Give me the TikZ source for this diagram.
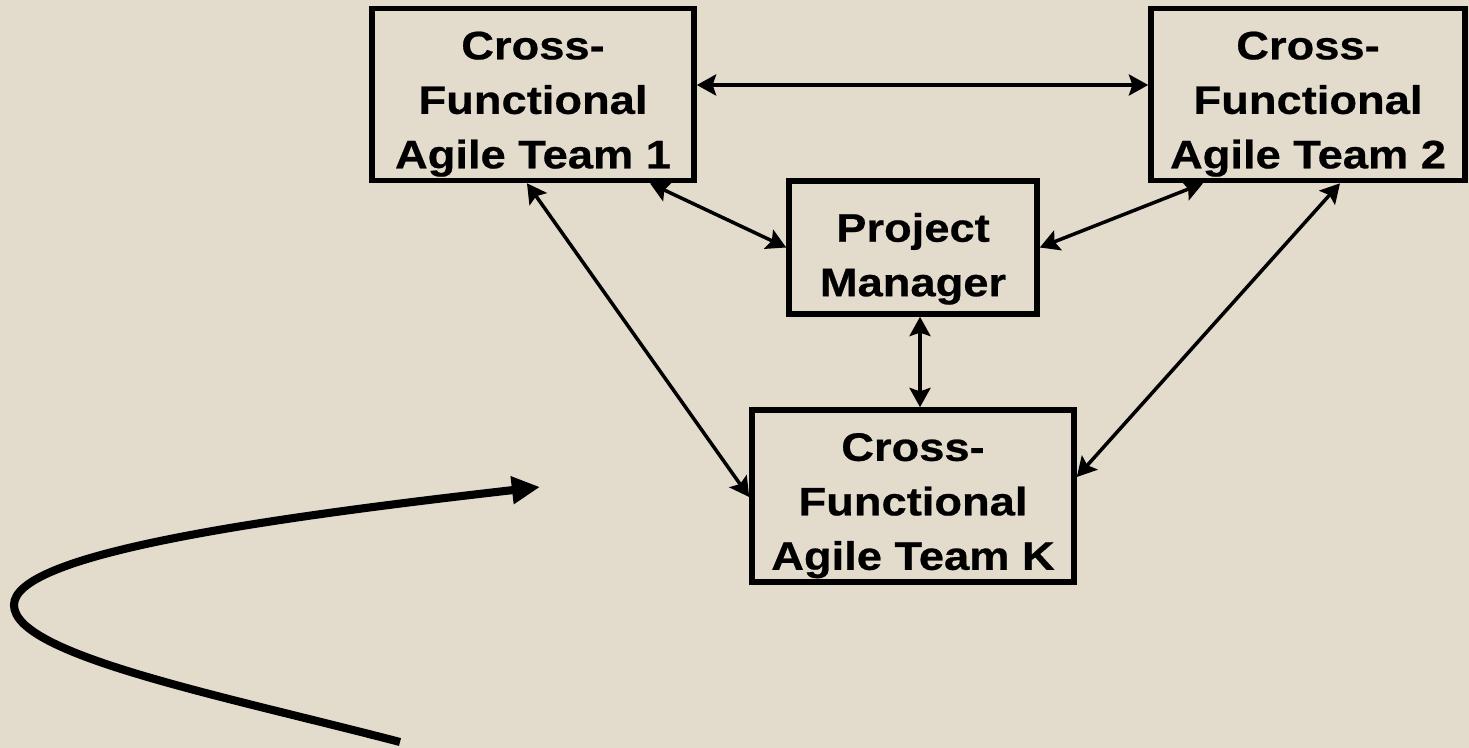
\documentclass[tikz,border=0pt]{standalone}
\usepackage{fontspec}
\newfontfamily\boxfont[FakeStretch=1.14,FakeBold=0.6]{Liberation Sans}
\usepackage{tikz}
\usetikzlibrary{positioning,arrows.meta}
\definecolor{paper}{RGB}{227,219,204}

\begin{document}
\begin{tikzpicture}[on grid,auto]
    \tikzset{teambox/.style={draw,rectangle,line width=1.6pt,inner sep=0pt,
        minimum width=3.22cm,minimum height=1.72cm,align=center,
        text height=42pt,text depth=0pt,
        font=\boxfont\bfseries\fontsize{11.3}{15.5}\selectfont}}
    \tikzset{link/.style={line width=1pt,
        {Stealth[length=5.5pt,width=6pt,inset=1pt]}-{Stealth[length=5.5pt,width=6pt,inset=1pt]}}}
    \tikzset{flow/.style={line width=2.3pt,-{Triangle[length=8pt,width=7.5pt]}}}

    % page
    \fill[paper] (0,0) rectangle (14.69,-7.48);
    \useasboundingbox (0,0) rectangle (14.69,-7.48);

    \node[teambox] (team1) at (5.33,-0.945) {Cross-\\Functional\\Agile Team 1};
    \node[teambox,minimum width=3.14cm] (team2) [right = 7.75cm of team1] {Cross-\\Functional\\Agile Team 2};
    \node[teambox,minimum width=2.48cm,minimum height=1.33cm,text height=27.7pt] (pm) [below right = 1.53cm and 3.8cm of team1] {Project\\Manager};
    \node[teambox] (teamK) [below = 2.485cm of pm] {Cross-\\Functional\\Agile Team K};

    \path[link]
    ([yshift=0.095cm]team1.east) edge ([yshift=0.095cm]team2.west)
    ([xshift=1.17cm]team1.south) edge (pm.west)
    ([xshift=-1.05cm]team2.south) edge (pm.east)
    ([xshift=0.07cm]pm.south) edge ([xshift=0.07cm]teamK.north)
    ([xshift=-0.06cm]team1.south) edge ([yshift=-0.01cm]teamK.west)
    ([xshift=0.32cm]team2.south) edge ([yshift=0.19cm]teamK.east)
    ;

    % big curved arrow
    \coordinate (tail) at (4.00,-7.42);
    \coordinate (bend) at (0.14,-6.05);
    \coordinate (head) at (5.40,-4.87);
    \draw[flow] (tail) .. controls (2.2,-6.95) and (0.14,-6.55) .. (bend)
        .. controls (0.14,-5.55) and (2.5,-5.2) .. (head);
\end{tikzpicture}
\end{document}
